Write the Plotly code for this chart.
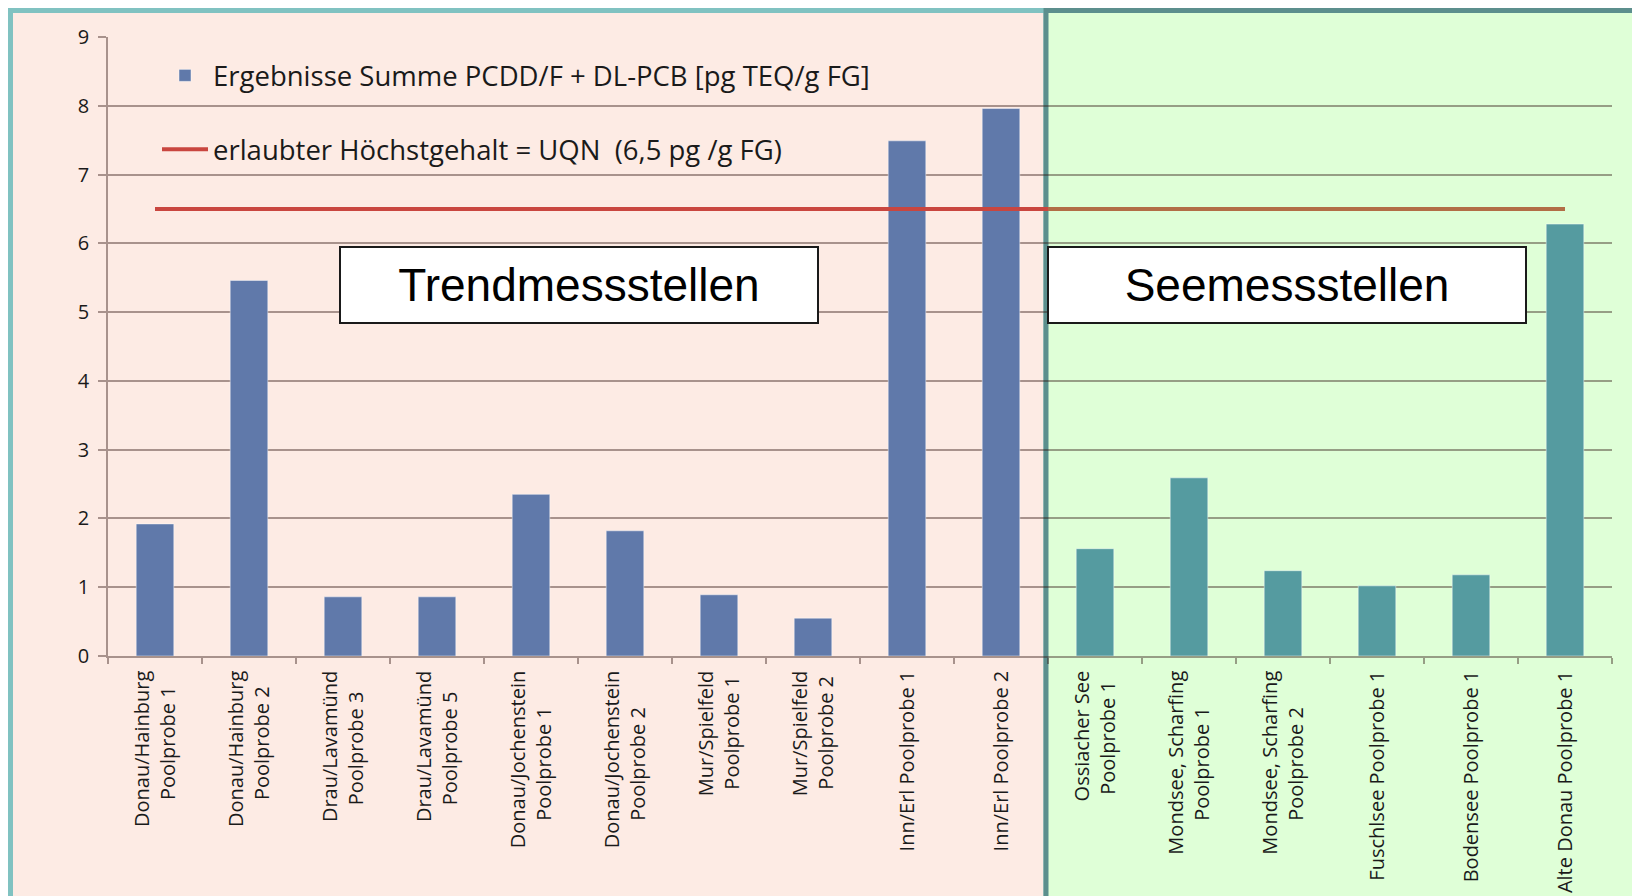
import plotly.graph_objects as go

# ---------------- data ----------------
trend_labels = [
    ["Donau/Hainburg", "Poolprobe 1"], ["Donau/Hainburg", "Poolprobe 2"],
    ["Drau/Lavamünd", "Poolprobe 3"], ["Drau/Lavamünd", "Poolprobe 5"],
    ["Donau/Jochenstein", "Poolprobe 1"], ["Donau/Jochenstein", "Poolprobe 2"],
    ["Mur/Spielfeld", "Poolprobe 1"], ["Mur/Spielfeld", "Poolprobe 2"],
    ["Inn/Erl Poolprobe 1"], ["Inn/Erl Poolprobe 2"],
]
trend_values = [1.92, 5.46, 0.86, 0.86, 2.35, 1.82, 0.89, 0.55, 7.49, 7.96]

see_labels = [
    ["Ossiacher See", "Poolprobe 1"], ["Mondsee, Scharfing", "Poolprobe 1"],
    ["Mondsee, Scharfing", "Poolprobe 2"], ["Fuschlsee Poolprobe 1"],
    ["Bodensee Poolprobe 1"], ["Alte Donau Poolprobe 1"],
]
see_values = [1.56, 2.59, 1.24, 1.02, 1.18, 6.28]

limit_value = 6.5
y_ticks = list(range(0, 10))

bar_name = "Ergebnisse Summe PCDD/F + DL-PCB [pg TEQ/g FG]"
line_name = "erlaubter Höchstgehalt = UQN \u00a0(6,5 pg /g FG)"
group_names = ["Trendmessstellen", "Seemessstellen"]

# ---------------- derived ----------------
NBSP = "\u00a0"


def est_width(s):
    w = 0.0
    for ch in s:
        if ch in "ilj'.,|":
            w += 0.25
        elif ch in "frt/ ":
            w += 0.33
        elif ch == "m":
            w += 0.86
        elif ch.isupper():
            w += 0.66
        elif ch.isdigit():
            w += 0.57
        else:
            w += 0.56
    return w


def centered_label(lines):
    # rotated multi-line tick labels are end-aligned; pad shorter lines so
    # that lines appear centred on each other
    longest = max(est_width(l) for l in lines)
    out = []
    for l in lines:
        pad = int(round((longest - est_width(l)) / 2 / 0.26))
        out.append(l + NBSP * pad)
    return "<br>".join(out)


labels = [centered_label(l) for l in trend_labels + see_labels]
values = trend_values + see_values
n_trend = len(trend_labels)
n = len(labels)
xs = list(range(n))
boundary = n_trend - 0.5

BLUE = "#6079aa"
TEAL = "#559ba0"
colors = [BLUE] * n_trend + [TEAL] * len(see_labels)

# page body has an 8px margin: figure pixel = screen pixel - OFF
OFF = 8
W, H = 1640, 896
ML, MT = 108 - OFF, 37 - OFF
MR = W - (1612 - OFF)
MB = H - (656 - OFF)
PW = W - ML - MR
PH = H - MT - MB


def px_x(p):
    return (p - OFF - ML) / PW


def px_y(p):
    return (H - MB - (p - OFF)) / PH


FONT = "Open Sans"
GRID = "rgba(50,25,20,0.42)"

fig = go.Figure()

fig.add_trace(go.Bar(
    x=xs, y=values, width=0.4,
    marker=dict(color=colors, line=dict(color="rgba(255,255,255,0.45)", width=1)),
    name=bar_name, legendgroup="a",
))
fig.add_trace(go.Scatter(
    x=[xs[0], boundary], y=[limit_value, limit_value], mode="lines",
    line=dict(color="#c9463f", width=4), name=line_name, legendgroup="b",
))
fig.add_trace(go.Scatter(
    x=[boundary, xs[-1]], y=[limit_value, limit_value], mode="lines",
    line=dict(color="#b26e46", width=4), name=line_name, legendgroup="b",
    showlegend=False,
))

shapes = [
    dict(type="rect", xref="paper", yref="paper", layer="below",
         x0=px_x(10.5), x1=px_x(1046), y0=px_y(930), y1=px_y(10.5),
         fillcolor="#fdebe4", line=dict(color="#80c2c1", width=5)),
    dict(type="rect", xref="paper", yref="paper", layer="below",
         x0=px_x(1046), x1=px_x(1637), y0=px_y(930), y1=px_y(10.5),
         fillcolor="#dfffd7", line=dict(color="#5c8f8d", width=5)),
]

annotations = []
for name, cx in zip(group_names, [579, 1287]):
    annotations.append(dict(
        text=name, xref="paper", yref="paper", x=px_x(cx), y=px_y(285),
        xanchor="center", yanchor="middle", showarrow=False,
        font=dict(family="Liberation Sans", size=46, color="#000000"),
        bgcolor="#ffffff", bordercolor="#1a1a1a", borderwidth=2,
        width=476, height=74, borderpad=0,
    ))

fig.update_layout(
    width=W, height=H,
    margin=dict(l=ML, r=MR, t=MT, b=MB, autoexpand=False),
    paper_bgcolor="#e5e5e5",
    plot_bgcolor="rgba(0,0,0,0)",
    shapes=shapes,
    annotations=annotations,
    showlegend=True,
    legend=dict(
        x=px_x(157), y=px_y(51), xanchor="left", yanchor="top",
        bgcolor="rgba(0,0,0,0)", font=dict(family=FONT, size=27.5, color="#1a1a1a"),
        traceorder="grouped", tracegroupgap=35, itemwidth=46,
    ),
    font=dict(family=FONT, color="#1a1a1a"),
)

fig.update_xaxes(
    range=[-0.5, n - 0.5], automargin=False,
    tickmode="array", tickvals=xs, ticktext=labels,
    tickangle=-90, ticks="", tickfont=dict(family=FONT, size=20, color="#1a1a1a"),
    showgrid=False, zeroline=False,
    showline=True, linecolor=GRID, linewidth=1.5,
    minor=dict(tickmode="array", tickvals=[i - 0.5 for i in range(n + 1)],
               ticks="outside", ticklen=6, tickcolor=GRID, tickwidth=1.5, showgrid=False),
    ticklabelstandoff=5,
)
fig.update_yaxes(
    range=[0, 9], automargin=False, tickmode="array", tickvals=y_ticks,
    ticks="outside", ticklen=8, tickcolor=GRID, tickwidth=1.5,
    tickfont=dict(family=FONT, size=20, color="#1a1a1a"),
    showgrid=True, gridcolor=GRID, gridwidth=1.5,
    zeroline=False, showline=True, linecolor=GRID, linewidth=1.5,
    ticklabelstandoff=5,
)

fig.write_html("out.html")
